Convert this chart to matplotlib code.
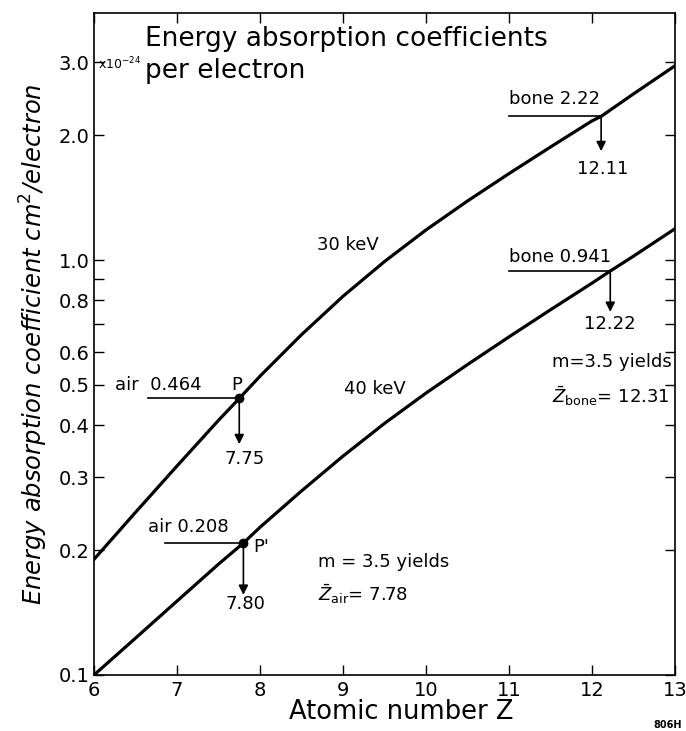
import numpy as np
import matplotlib
matplotlib.use("Agg")
import matplotlib.pyplot as plt
from matplotlib.ticker import FixedLocator, NullLocator, NullFormatter

# curves (Z, coefficient in 1e-24 cm^2/electron)
z_30 = [6.0, 6.5, 7.0, 7.5, 7.75, 8.0, 8.5, 9.0, 9.5, 10.0, 10.5, 11.0, 11.5, 12.0, 12.11, 12.5, 13.0]
mu_30 = [0.190, 0.2466, 0.319, 0.411, 0.464, 0.525, 0.661, 0.818, 0.992, 1.182, 1.388, 1.616, 1.873, 2.165, 2.22, 2.515, 2.94]
z_40 = [6.0, 6.5, 7.0, 7.5, 7.80, 8.0, 8.5, 9.0, 9.5, 10.0, 10.5, 11.0, 11.5, 12.0, 12.22, 12.5, 13.0]
mu_40 = [0.100, 0.1227, 0.1507, 0.185, 0.208, 0.227, 0.2777, 0.3369, 0.404, 0.478, 0.560, 0.653, 0.759, 0.880, 0.941, 1.022, 1.190]

# read-off points: (Z, mu), start of the horizontal line, end of the arrow
mark_z = [7.75, 7.80, 12.11, 12.22]
mark_mu = [0.464, 0.208, 2.22, 0.941]
hline_start = [6.65, 6.85, 11.0, 11.0]
arrow_end = [0.36, 0.156, 1.83, 0.75]

yticks_major = [0.1, 0.2, 0.3, 0.4, 0.5, 0.6, 0.8, 1.0, 2.0, 3.0]
ytick_labels = ["0.1", "0.2", "0.3", "0.4", "0.5", "0.6", "0.8", "1.0", "2.0", "3.0"]
yticks_all = [0.1, 0.2, 0.3, 0.4, 0.5, 0.6, 0.7, 0.8, 0.9, 1.0, 2.0, 3.0]
xticks = [6, 7, 8, 9, 10, 11, 12, 13]

plt.rcParams["font.family"] = "DejaVu Sans"
plt.rcParams["mathtext.fontset"] = "dejavusans"

fig = plt.figure(figsize=(6.86, 7.31), dpi=100)
ax = fig.add_axes([94 / 686, 56 / 731, 581 / 686, 662 / 731])

ax.plot(z_30, mu_30, color="k", lw=2.3, solid_joinstyle="round")
ax.plot(z_40, mu_40, color="k", lw=2.3, solid_joinstyle="round")

ax.set_yscale("log")
ax.set_xlim(6, 13)
ax.set_ylim(0.1, 3.94)

# ticks
ax.yaxis.set_major_locator(FixedLocator(yticks_all))
ax.yaxis.set_minor_locator(NullLocator())
ax.yaxis.set_minor_formatter(NullFormatter())
ax.set_yticklabels([ytick_labels[yticks_major.index(v)] if v in yticks_major else "" for v in yticks_all])
ax.set_xticks(xticks)
ax.set_xticklabels([str(v) for v in xticks])
ax.tick_params(direction="in", length=7, width=1.0, labelsize=14,
               top=True, right=True, pad=4)
ax.tick_params(axis="y", pad=3)
for s in ax.spines.values():
    s.set_linewidth(1.2)

# read-off constructions
for i in range(len(mark_z)):
    ax.plot([hline_start[i], mark_z[i]], [mark_mu[i], mark_mu[i]], color="k", lw=1.2)
    ax.annotate("", xy=(mark_z[i], arrow_end[i]), xytext=(mark_z[i], mark_mu[i]),
                arrowprops=dict(arrowstyle="-|>", color="k", lw=1.2,
                                mutation_scale=14, shrinkA=0, shrinkB=0))
ax.plot(mark_z[:2], mark_mu[:2], "o", color="k", ms=6)

fs = 13
ax.text(6.25, 0.50, "air  0.464", fontsize=fs, va="center", ha="left")
ax.text(7.72, 0.50, "P", fontsize=fs, va="center", ha="center")
ax.text(7.82, 0.331, "7.75", fontsize=fs, va="center", ha="center")
ax.text(6.65, 0.227, "air 0.208", fontsize=fs, va="center", ha="left")
ax.text(8.02, 0.203, "P'", fontsize=fs, va="center", ha="center")
ax.text(7.83, 0.148, "7.80", fontsize=fs, va="center", ha="center")
ax.text(11.0, 2.44, "bone 2.22", fontsize=fs, va="center", ha="left")
ax.text(12.13, 1.66, "12.11", fontsize=fs, va="center", ha="center")
ax.text(11.0, 1.02, "bone 0.941", fontsize=fs, va="center", ha="left")
ax.text(12.22, 0.70, "12.22", fontsize=fs, va="center", ha="center")
ax.text(11.52, 0.568, "m=3.5 yields", fontsize=fs, va="center", ha="left")
ax.text(11.52, 0.47, r"$\bar{Z}_{\mathrm{bone}}$= 12.31", fontsize=fs, va="center", ha="left")
ax.text(9.06, 1.09, "30 keV", fontsize=fs, va="center", ha="center")
ax.text(9.39, 0.489, "40 keV", fontsize=fs, va="center", ha="center")
ax.text(8.70, 0.187, "m = 3.5 yields", fontsize=fs, va="center", ha="left")
ax.text(8.70, 0.157, r"$\bar{Z}_{\mathrm{air}}$= 7.78", fontsize=fs, va="center", ha="left")

ax.text(6.61, 3.41, "Energy absorption coefficients", fontsize=19, va="center", ha="left")
ax.text(6.61, 2.85, "per electron", fontsize=19, va="center", ha="left")
ax.text(6.05, 2.97, r"x10$^{-24}$", fontsize=9, va="center", ha="left")

ax.set_ylabel("Energy absorption coefficient cm$^2$/electron", fontsize=17.5,
              style="italic", labelpad=6)
fig.text(401 / 686, 1 - 712 / 731, "Atomic number Z", fontsize=18.5, ha="center", va="center")
fig.text(682 / 686, 1 - 725 / 731, "806H", fontsize=7, weight="bold", ha="right", va="center")

fig.savefig("out.png", dpi=100, facecolor="white")
